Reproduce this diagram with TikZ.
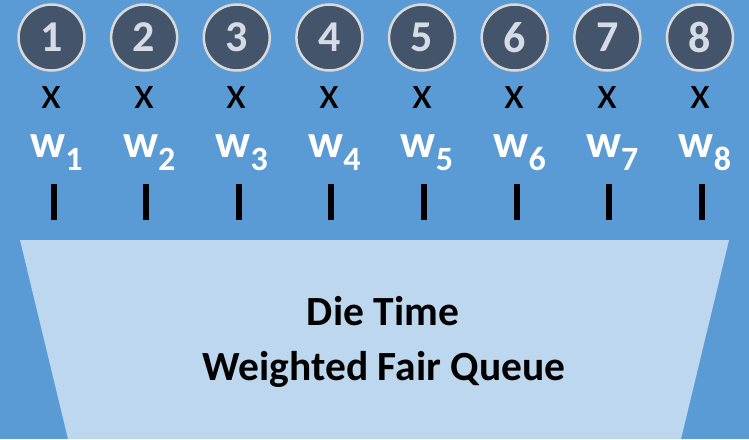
\documentclass[tikz,border=0pt]{standalone}
\usepackage{fontspec}
\setmainfont{Carlito}
\definecolor{bgblue}{HTML}{5B9BD5}
\definecolor{qblue}{HTML}{BDD7EE}
\definecolor{slate}{HTML}{44546A}
\definecolor{digit}{HTML}{D6DCE5}
\definecolor{ring}{HTML}{D9D9D9}

\tikzset{
  flow/.style={circle, draw=ring, line width=2.5pt, fill=slate, text=digit,
    minimum size=66pt, inner sep=0pt, font=\fontsize{44}{44}\selectfont\bfseries},
  times/.style={anchor=base, inner sep=0pt, font=\fontsize{46}{46}\selectfont},
  weight/.style={anchor=base, inner sep=0pt, text=white, font=\fontsize{47}{47}\selectfont\bfseries},
  bar/.style={fill=black, minimum width=6pt, minimum height=36pt, inner sep=0pt},
  title/.style={anchor=base, inner sep=0pt, font=\fontsize{41.5}{41.5}\selectfont\bfseries}
}

\begin{document}
\begin{tikzpicture}[x=1pt,y=-1pt]
\fill[bgblue] (0,0) rectangle (749,439);
\useasboundingbox (0,0) rectangle (749,439);

% queue
\fill[qblue] (20,240) -- (729,240) -- (681,439) -- (68,439) -- cycle;
\node[title] (line1) at (383,325) {Die Time};
\node[title] (line2) at (384,380) {Weighted Fair Queue};

% flows and weights
\foreach \i in {1,...,8} {
    \pgfmathsetmacro{\cx}{51.5+92.64*(\i-1)}
    \node[flow] (f\i) at (\cx,37.5) {\i};
    \node[times] (x\i) at (\cx,108) {x};
    \node[weight] (w\i) at (\cx+5,157) {w\raisebox{-13pt}{\fontsize{34}{34}\selectfont\i}};
    \node[bar] (b\i) at (\cx+2,202) {};
}
\end{tikzpicture}
\end{document}
